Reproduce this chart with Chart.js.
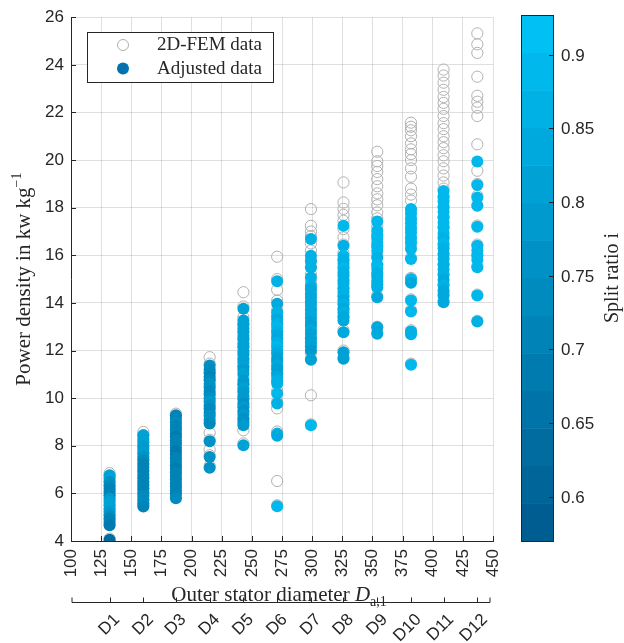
<!DOCTYPE html>
<html>
<head>
<meta charset="utf-8">
<script src="https://cdn.jsdelivr.net/npm/chart.js@4.4.0/dist/chart.umd.min.js"></script>
<style>
  html, body { margin: 0; padding: 0; background: #fff; }
  canvas { display: block; }
</style>
</head>
<body>
<canvas id="grafico" width="624" height="643"></canvas>
<script>
// Diâmetros externos do estator (mm), um por máquina D1..D12
const diametros = [132, 160, 187, 215, 243, 271, 299, 326, 354, 382, 409, 437];
const rotulosD = ['D1', 'D2', 'D3', 'D4', 'D5', 'D6', 'D7', 'D8', 'D9', 'D10', 'D11', 'D12'];

// Densidade de potência 2D-FEM (kW/kg), por diâmetro
const potenciaFem = [
  [6.85, 6.7, 6.5, 6.3, 6.1, 5.9, 5.7, 5.5, 5.3, 5.1, 4.9, 4.7, 4.1],
  [8.58, 8.45, 8.2, 7.95, 7.7, 7.45, 7.2, 6.95, 6.7, 6.45, 6.2, 5.95, 5.7, 5.5],
  [9.35, 9.25, 9.0, 8.7, 8.4, 8.1, 7.8, 7.5, 7.2, 6.9, 6.6, 6.3, 6.0, 5.85],
  [11.72, 11.45, 11.1, 10.8, 10.5, 10.2, 9.9, 9.6, 9.3, 9.0, 8.54, 8.25, 7.84, 7.6, 7.15],
  [14.45, 13.85, 13.4, 13.1, 12.8, 12.5, 12.2, 11.9, 11.6, 11.3, 10.9, 10.6, 10.3, 10.0, 9.7, 9.4, 9.1, 8.65, 8.1],
  [15.94, 15.0, 14.55, 14.1, 13.7, 13.4, 13.1, 12.8, 12.5, 12.2, 11.9, 11.6, 11.3, 11.0, 10.7, 10.3, 9.85, 9.57, 8.6, 6.52, 5.5],
  [17.94, 17.24, 17.0, 16.8, 16.5, 16.2, 15.8, 15.5, 15.2, 14.9, 14.6, 14.3, 14.0, 13.7, 13.4, 13.1, 12.8, 12.5, 12.2, 11.9, 11.65, 10.12, 8.9],
  [19.06, 18.22, 17.95, 17.7, 17.45, 17.1, 16.75, 16.45, 16.1, 15.8, 15.5, 15.2, 14.9, 14.6, 14.3, 14.0, 13.7, 13.4, 12.85, 12.0, 11.7],
  [20.35, 19.95, 19.75, 19.5, 19.2, 18.9, 18.6, 18.35, 18.1, 17.8, 17.55, 17.2, 16.8, 16.4, 16.0, 15.6, 15.2, 14.8, 14.3, 13.0, 12.75],
  [21.57, 21.4, 21.25, 21.0, 20.7, 20.45, 20.25, 20.0, 19.65, 19.3, 18.8, 18.55, 18.3, 17.9, 17.5, 17.1, 16.7, 16.4, 15.9, 15.05, 14.15, 13.7, 12.85, 11.45],
  [23.8, 23.55, 23.25, 22.95, 22.65, 22.4, 22.15, 21.85, 21.55, 21.3, 21.0, 20.75, 20.5, 20.2, 19.95, 19.65, 19.35, 19.06, 18.8, 18.4, 18.0, 17.6, 17.2, 16.8, 16.4, 16.0, 15.6, 15.2, 14.8, 14.4, 14.1],
  [25.32, 24.86, 24.5, 23.5, 22.7, 22.45, 22.2, 21.85, 20.66, 19.55, 19.0, 18.5, 18.1, 17.25, 16.45, 16.0, 15.55, 14.35, 13.25]
];

// Densidade de potência ajustada (kW/kg)
const potenciaAjustada = [
  [6.76, 6.62, 6.48, 6.34, 6.2, 6.06, 5.92, 5.78, 5.64, 5.5, 5.36, 5.22, 5.08, 4.94, 4.8, 4.66, 4.05],
  [8.44, 8.29, 8.14, 7.99, 7.84, 7.69, 7.54, 7.39, 7.24, 7.09, 6.94, 6.79, 6.64, 6.49, 6.34, 6.19, 6.04, 5.89, 5.74, 5.59, 5.45],
  [9.28, 9.13, 8.98, 8.83, 8.68, 8.53, 8.38, 8.23, 8.08, 7.93, 7.78, 7.63, 7.48, 7.33, 7.18, 7.03, 6.88, 6.73, 6.58, 6.43, 6.28, 6.13, 5.98, 5.8],
  [11.37, 11.2, 11.05, 10.9, 10.75, 10.6, 10.45, 10.3, 10.15, 10.0, 9.85, 9.7, 9.55, 9.4, 9.25, 9.1, 8.93, 8.19, 7.53, 7.08],
  [13.75, 13.26, 13.1, 12.94, 12.78, 12.62, 12.46, 12.3, 12.14, 11.98, 11.82, 11.66, 11.5, 11.34, 11.18, 11.04, 10.74, 10.58, 10.42, 10.26, 10.1, 9.94, 9.78, 9.62, 9.46, 9.3, 9.14, 8.98, 8.86, 8.02],
  [14.91, 13.96, 13.61, 13.45, 13.29, 13.13, 12.97, 12.81, 12.65, 12.49, 12.33, 12.17, 12.01, 11.85, 11.69, 11.53, 11.37, 11.21, 11.05, 10.89, 10.73, 10.6, 10.2, 9.78, 8.51, 8.42, 5.46],
  [16.68, 15.98, 15.75, 15.49, 15.07, 14.73, 14.56, 14.39, 14.22, 14.05, 13.88, 13.71, 13.54, 13.37, 13.2, 13.03, 12.86, 12.69, 12.52, 12.35, 12.18, 12.0, 11.61, 8.86],
  [17.24, 16.4, 15.98, 15.81, 15.64, 15.47, 15.3, 15.13, 14.96, 14.79, 14.62, 14.45, 14.28, 14.11, 13.94, 13.77, 13.6, 13.43, 13.26, 12.77, 11.93, 11.65],
  [17.42, 17.03, 16.86, 16.69, 16.52, 16.35, 16.18, 15.9, 15.6, 15.43, 15.26, 15.09, 14.92, 14.75, 14.65, 14.24, 12.98, 12.7],
  [17.94, 17.75, 17.55, 17.35, 17.15, 16.95, 16.75, 16.55, 16.26, 15.84, 15.0, 14.85, 14.1, 13.64, 12.8, 12.68, 11.4],
  [18.7, 18.48, 18.26, 18.04, 17.82, 17.6, 17.38, 17.16, 16.94, 16.72, 16.5, 16.28, 16.06, 15.84, 15.62, 15.4, 15.18, 14.96, 14.74, 14.52, 14.3, 14.03],
  [19.94, 18.95, 18.43, 18.08, 17.2, 16.4, 16.2, 16.0, 15.8, 15.5, 14.31, 13.22]
];

// Split ratio de cada ponto ajustado (define a cor)
const razaoSplit = [
  [0.82, 0.8, 0.77, 0.74, 0.72, 0.7, 0.72, 0.78, 0.8, 0.82, 0.8, 0.78, 0.76, 0.72, 0.7, 0.68, 0.64],
  [0.8, 0.8, 0.8, 0.79, 0.78, 0.78, 0.76, 0.74, 0.72, 0.7, 0.7, 0.7, 0.72, 0.72, 0.7, 0.7, 0.72, 0.74, 0.74, 0.74, 0.72],
  [0.7, 0.72, 0.74, 0.72, 0.7, 0.7, 0.68, 0.7, 0.72, 0.7, 0.68, 0.68, 0.7, 0.72, 0.7, 0.68, 0.7, 0.72, 0.72, 0.7, 0.7, 0.72, 0.72, 0.74],
  [0.76, 0.74, 0.74, 0.72, 0.74, 0.76, 0.76, 0.74, 0.74, 0.76, 0.78, 0.76, 0.74, 0.74, 0.76, 0.76, 0.74, 0.77, 0.75, 0.77],
  [0.82, 0.8, 0.8, 0.82, 0.8, 0.8, 0.82, 0.8, 0.8, 0.8, 0.82, 0.8, 0.8, 0.8, 0.78, 0.8, 0.78, 0.78, 0.8, 0.78, 0.78, 0.78, 0.76, 0.78, 0.76, 0.78, 0.76, 0.76, 0.78, 0.8],
  [0.86, 0.84, 0.86, 0.86, 0.84, 0.86, 0.88, 0.86, 0.84, 0.84, 0.86, 0.88, 0.86, 0.84, 0.82, 0.82, 0.84, 0.82, 0.82, 0.84, 0.86, 0.86, 0.88, 0.86, 0.86, 0.84, 0.88],
  [0.87, 0.87, 0.86, 0.87, 0.86, 0.86, 0.85, 0.84, 0.85, 0.84, 0.84, 0.83, 0.84, 0.83, 0.82, 0.82, 0.83, 0.82, 0.81, 0.8, 0.8, 0.79, 0.8, 0.88],
  [0.88, 0.87, 0.88, 0.87, 0.87, 0.88, 0.87, 0.86, 0.87, 0.86, 0.86, 0.87, 0.86, 0.85, 0.86, 0.85, 0.86, 0.85, 0.85, 0.83, 0.82, 0.82],
  [0.9, 0.89, 0.89, 0.88, 0.89, 0.88, 0.88, 0.87, 0.88, 0.88, 0.87, 0.87, 0.86, 0.87, 0.86, 0.84, 0.84, 0.85],
  [0.9, 0.9, 0.9, 0.9, 0.89, 0.9, 0.89, 0.89, 0.88, 0.89, 0.88, 0.84, 0.88, 0.88, 0.87, 0.87, 0.88],
  [0.9, 0.89, 0.9, 0.89, 0.89, 0.88, 0.89, 0.88, 0.88, 0.87, 0.88, 0.87, 0.87, 0.86, 0.87, 0.86, 0.86, 0.85, 0.86, 0.85, 0.85, 0.84],
  [0.9, 0.9, 0.9, 0.89, 0.9, 0.9, 0.89, 0.89, 0.9, 0.89, 0.88, 0.86]
];

const ticksCorBarra = [0.6, 0.65, 0.7, 0.75, 0.8, 0.85, 0.9];
const razaoMin = 0.57, razaoMax = 0.927;

// mapa de cores discreto (14 faixas)
const corBaixa = [0, 93, 145], corAlta = [0, 192, 244], nFaixas = 14;
function corDaFaixa(k) {
  const t = k / (nFaixas - 1);
  const c = corBaixa.map((v, i) => Math.round(v + (corAlta[i] - v) * t));
  return `rgb(${c[0]},${c[1]},${c[2]})`;
}
function corRazao(r) {
  let t = (r - razaoMin) / (razaoMax - razaoMin);
  t = Math.max(0, Math.min(0.9999, t));
  return corDaFaixa(Math.floor(t * nFaixas));
}

const pontosFem = [];
const pontosAjustados = [];
const coresAjustadas = [];
diametros.forEach((d, i) => {
  potenciaFem[i].forEach(v => pontosFem.push({ x: d, y: v }));
  potenciaAjustada[i].forEach((v, j) => {
    pontosAjustados.push({ x: d, y: v });
    coresAjustadas.push(corRazao(razaoSplit[i][j]));
  });
});

const corTexto = '#262626';
const fonteSans = '"Liberation Sans", Arial, sans-serif';
const fonteSerif = '"Liberation Serif", "Times New Roman", serif';

// desenha texto com partes (sub/sobrescrito)
function textoRico(ctx, partes, x, y, angulo) {
  ctx.save();
  ctx.translate(x, y);
  ctx.rotate(angulo);
  let largura = 0;
  partes.forEach(p => { ctx.font = p.f; largura += ctx.measureText(p.t).width; });
  let cx = -largura / 2;
  ctx.textAlign = 'left';
  ctx.textBaseline = 'alphabetic';
  ctx.fillStyle = corTexto;
  partes.forEach(p => {
    ctx.font = p.f;
    ctx.fillText(p.t, cx, p.dy || 0);
    cx += ctx.measureText(p.t).width;
  });
  ctx.restore();
}

const extras = {
  id: 'extras',
  afterDraw(chart) {
    const ctx = chart.ctx;
    const { left, right, top, bottom } = chart.chartArea;
    const sx = chart.scales.x, sy = chart.scales.y;

    // ticks para dentro
    ctx.save();
    ctx.strokeStyle = corTexto;
    ctx.lineWidth = 1;
    ctx.beginPath();
    sx.ticks.forEach(t => {
      const px = Math.round(sx.getPixelForValue(t.value)) + 0.5;
      ctx.moveTo(px, bottom); ctx.lineTo(px, bottom - 5);
    });
    sy.ticks.forEach(t => {
      const py = Math.round(sy.getPixelForValue(t.value)) + 0.5;
      ctx.moveTo(left, py); ctx.lineTo(left + 5, py);
    });
    ctx.stroke();

    // legenda
    ctx.fillStyle = '#fff';
    ctx.fillRect(87, 32, 186, 50);
    ctx.strokeStyle = corTexto;
    ctx.strokeRect(87.5, 32.5, 186, 50);
    ctx.beginPath();
    ctx.arc(123, 45, 5.5, 0, Math.PI * 2);
    ctx.strokeStyle = '#b0b0b0';
    ctx.stroke();
    ctx.beginPath();
    ctx.arc(123, 68.5, 6, 0, Math.PI * 2);
    ctx.fillStyle = '#0072b0';
    ctx.fill();
    ctx.fillStyle = corTexto;
    ctx.font = `19px ${fonteSerif}`;
    ctx.textAlign = 'left';
    ctx.textBaseline = 'middle';
    ctx.fillText('2D-FEM data', 157, 45.5);
    ctx.fillText('Adjusted data', 157, 69);

    // barra de cores
    const cbX = 521, cbW = 32, cbTop = 15, cbBot = 541;
    const yCb = r => cbBot - (r - razaoMin) / (razaoMax - razaoMin) * (cbBot - cbTop);
    const alturaFaixa = (cbBot - cbTop) / nFaixas;
    for (let k = 0; k < nFaixas; k++) {
      ctx.fillStyle = corDaFaixa(k);
      ctx.fillRect(cbX, cbBot - (k + 1) * alturaFaixa, cbW, alturaFaixa + 0.5);
    }
    ctx.strokeStyle = corTexto;
    ctx.strokeRect(cbX + 0.5, cbTop + 0.5, cbW, cbBot - cbTop);
    ctx.font = `17px ${fonteSans}`;
    ctx.fillStyle = corTexto;
    ctx.textAlign = 'left';
    ctx.textBaseline = 'middle';
    ctx.beginPath();
    ticksCorBarra.forEach(r => {
      const py = Math.round(yCb(r)) + 0.5;
      ctx.moveTo(cbX + cbW, py); ctx.lineTo(cbX + cbW - 4, py);
      ctx.fillText(String(r), 561, py + 1);
    });
    ctx.stroke();
    textoRico(ctx, [{ t: 'Split ratio i', f: `20px ${fonteSerif}` }], 618, (cbTop + cbBot) / 2, -Math.PI / 2);

    // título eixo y
    textoRico(ctx, [
      { t: 'Power density in kw kg', f: `21px ${fonteSerif}` },
      { t: '\u22121', f: `14px ${fonteSerif}`, dy: -9 }
    ], 30, (top + bottom) / 2, -Math.PI / 2);

    // eixo secundário D1..D12
    const yLinha = 602.5;
    ctx.strokeStyle = corTexto;
    ctx.beginPath();
    ctx.moveTo(left + 1, yLinha); ctx.lineTo(right - 3, yLinha);
    ctx.moveTo(left + 1, yLinha); ctx.lineTo(left + 1, yLinha - 5);
    ctx.moveTo(right - 3, yLinha); ctx.lineTo(right - 3, yLinha - 5);
    diametros.forEach(d => {
      const px = Math.round(sx.getPixelForValue(d)) + 0.5;
      ctx.moveTo(px, yLinha); ctx.lineTo(px, yLinha - 5);
    });
    ctx.stroke();

    // título eixo x
    textoRico(ctx, [
      { t: 'Outer stator diameter ', f: `21px ${fonteSerif}` },
      { t: 'D', f: `italic 21px ${fonteSerif}` },
      { t: 'a,1', f: `14px ${fonteSerif}`, dy: 5 }
    ], 279, 601, 0);

    ctx.font = `17px ${fonteSans}`;
    ctx.fillStyle = corTexto;
    ctx.textAlign = 'right';
    ctx.textBaseline = 'middle';
    diametros.forEach((d, i) => {
      const px = sx.getPixelForValue(d);
      ctx.save();
      ctx.translate(px + 7.5, 617);
      ctx.rotate(-Math.PI / 4);
      ctx.fillText(rotulosD[i], 0, 0);
      ctx.restore();
    });
    ctx.restore();
  }
};

new Chart(document.getElementById('grafico').getContext('2d'), {
  type: 'scatter',
  data: {
    datasets: [
      {
        label: 'Adjusted data',
        data: pontosAjustados,
        backgroundColor: coresAjustadas,
        borderWidth: 0,
        pointRadius: 6,
        order: 0
      },
      {
        label: '2D-FEM data',
        data: pontosFem,
        backgroundColor: 'rgba(0,0,0,0)',
        borderColor: '#b0b0b0',
        borderWidth: 1,
        pointRadius: 5.6,
        order: 1
      }
    ]
  },
  options: {
    responsive: false,
    animation: false,
    devicePixelRatio: 1,
    layout: { padding: { top: 16, right: 131, left: 0, bottom: 0 } },
    plugins: { legend: { display: false }, tooltip: { enabled: false } },
    scales: {
      x: {
        type: 'linear',
        min: 100, max: 450,
        afterFit: s => { s.height = 102; },
        ticks: {
          stepSize: 25, maxRotation: 90, minRotation: 90, padding: 8,
          color: corTexto, font: { family: fonteSans, size: 17 }
        },
        grid: { color: 'rgba(38,38,38,0.15)', drawTicks: false },
        border: { color: corTexto, width: 1 }
      },
      y: {
        min: 4, max: 26,
        afterFit: s => { s.width = 71; },
        ticks: {
          stepSize: 2, padding: 7,
          color: corTexto, font: { family: fonteSans, size: 17 }
        },
        grid: { color: 'rgba(38,38,38,0.15)', drawTicks: false },
        border: { color: corTexto, width: 1 }
      }
    }
  },
  plugins: [extras]
});
</script>
</body>
</html>
